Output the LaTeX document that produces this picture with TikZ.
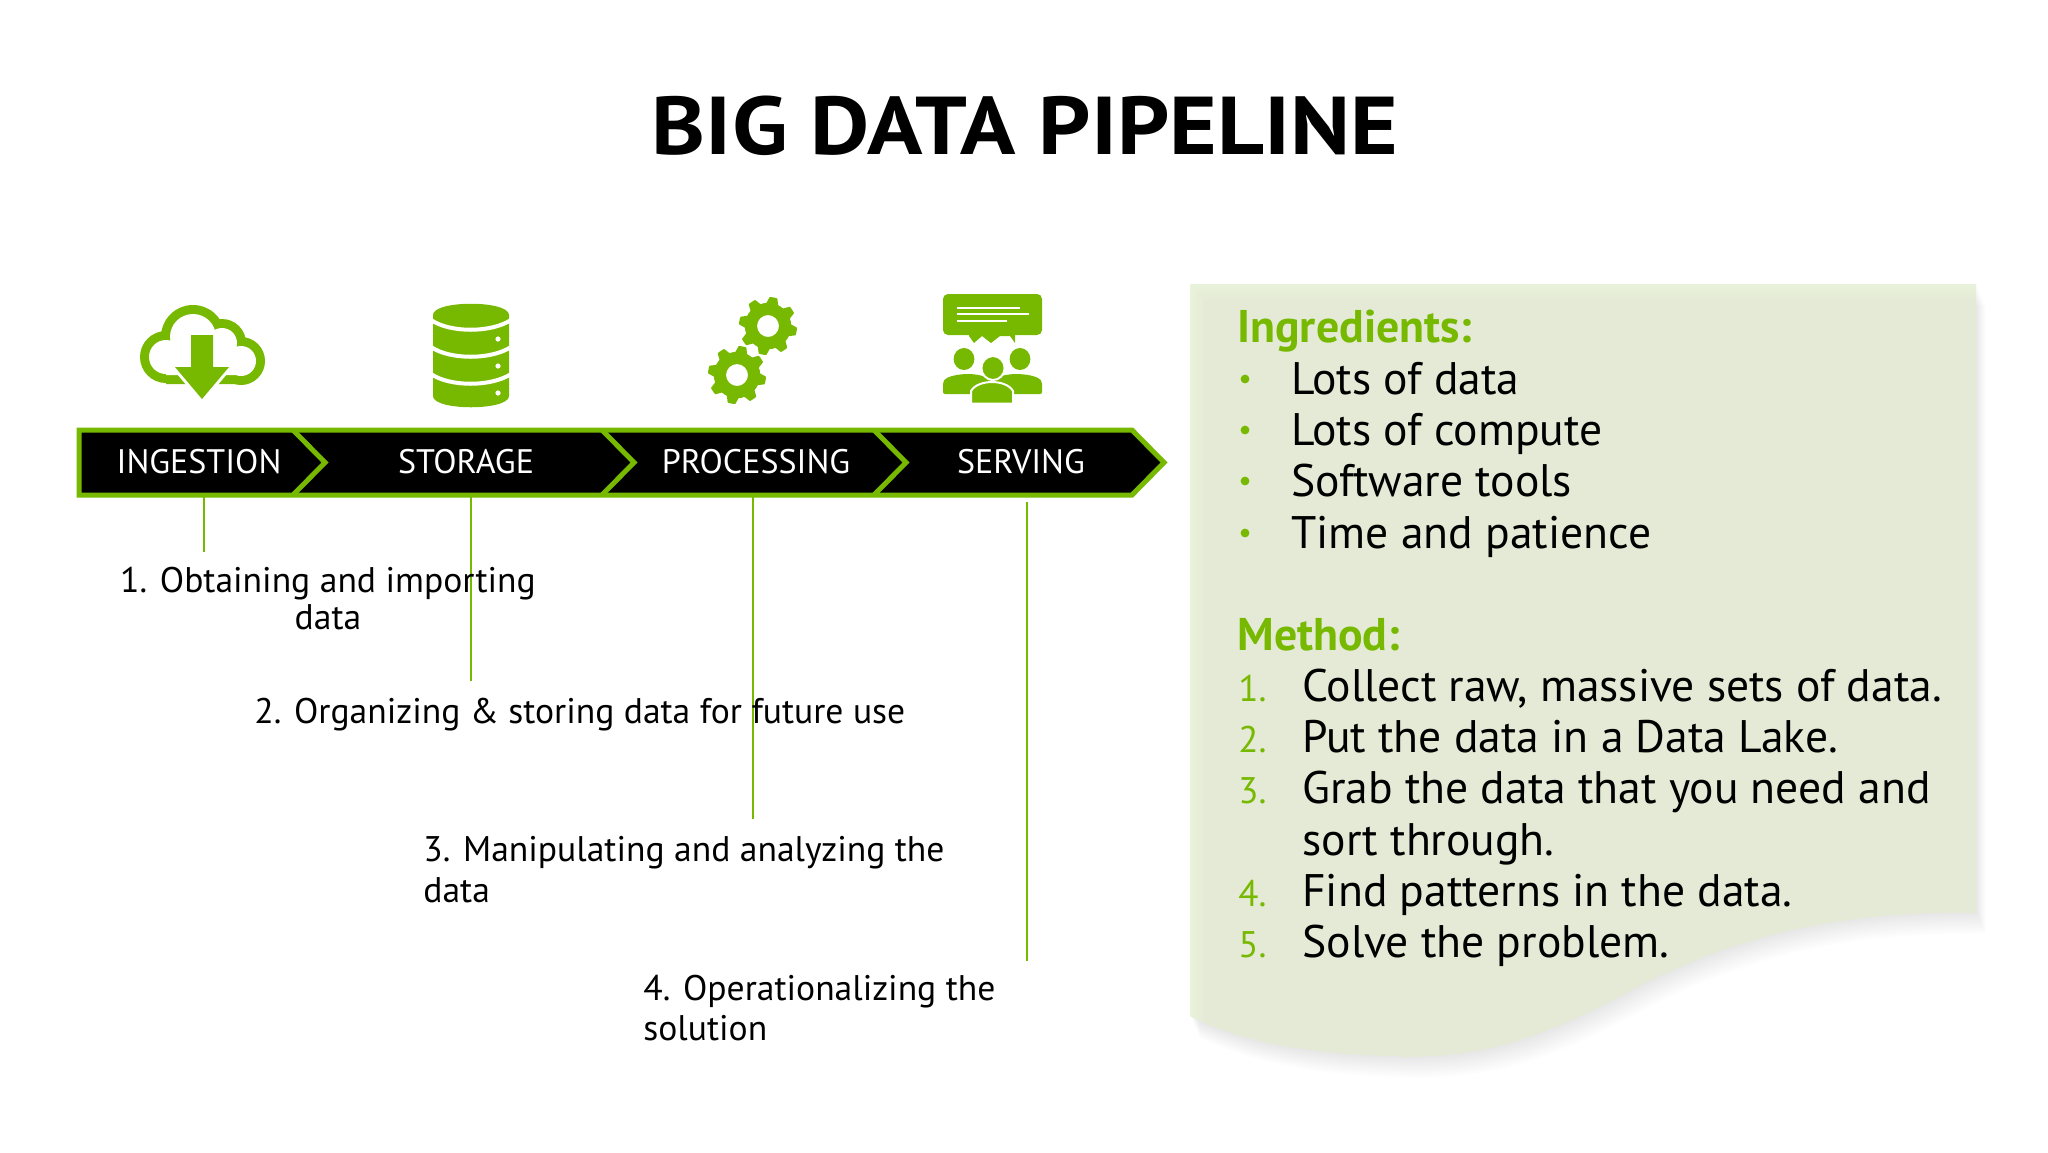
\documentclass[tikz,border=0pt]{standalone}
\usepackage{fontspec}
\setmainfont{PT Sans}
\definecolor{ngreen}{HTML}{76B900}
\definecolor{panel}{HTML}{E4E9D5}
\definecolor{panelL}{HTML}{E9F3DC}
\newcommand{\wavepath}{(1190,284) -- (1976,284) -- (1976,912) .. controls (1860,912) and (1760,925) .. (1640,985) .. controls (1540,1040) and (1480,1058) .. (1400,1056) .. controls (1320,1054) and (1250,1045) .. (1190,1016) -- cycle}
\newcommand{\gearshape}[3]{%
  \fill[ngreen,even odd rule] plot[smooth cycle,tension=0.25,samples at={0,...,47}] ({#1+(#3)*(1-0.2*(mod(\x+1,6)>2))*cos(\x*7.5+11)},{#2+(#3)*(1-0.2*(mod(\x+1,6)>2))*sin(\x*7.5+11)}) (#1,#2) circle[radius=5.5pt];}
\tikzset{
  x=0.5pt,y=-0.5pt,
  stage/.style={text=white,font=\fontsize{17}{20}\selectfont,anchor=base,inner sep=0pt},
  body/.style={text=black,font=\fontsize{17.8}{20}\selectfont,anchor=base west,inner sep=0pt},
  panelbody/.style={text=black,font=\fontsize{22.8}{24}\selectfont,anchor=base west,inner sep=0pt},
  panelhead/.style={text=ngreen,font=\fontsize{22.9}{24}\selectfont\bfseries,anchor=base west,inner sep=0pt},
  panelnum/.style={text=ngreen,font=\fontsize{18.5}{20}\selectfont,anchor=base west,inner sep=0pt},
  lead/.style={draw=ngreen,line width=1pt},
  chev/.style={draw=ngreen,line width=2.5pt,miter limit=10},
}
\begin{document}
\begin{tikzpicture}
\useasboundingbox (0,0) rectangle (2048,1152);
\fill[white] (0,0) rectangle (2048,1152);
% title
\node[font=\fontsize{41}{46}\selectfont\addfontfeature{FakeStretch=1.115}\bfseries,inner sep=0pt] (title) at (1025,126) {BIG DATA PIPELINE};
% panel with shadow
\foreach \d in {2,4,...,24}{
  \fill[black,opacity=0.006,shift={(\d*0.4,\d*0.9)}] \wavepath;
}
\fill[panelL] \wavepath;
\begin{scope}
  \clip \wavepath;
  \fill[panel] (1206,300) rectangle (1976,1152);
  \foreach \i in {0,...,7}{
    \pgfmathsetmacro{\m}{\i*12.5}
    \fill[panel!\m!panelL] (1190+\i*2,284+\i*2) rectangle (1976,1152);
  }
\end{scope}
% banner
\draw[fill=black,draw=ngreen,line width=2.5pt,miter limit=10] (79,430) -- (1132,430) -- (1164,462.5) -- (1132,495) -- (79,495) -- cycle;
\draw[chev] (293,430) -- (325,462.5) -- (293,495);
\draw[chev] (602,430) -- (634,462.5) -- (602,495);
\draw[chev] (874,430) -- (906,462.5) -- (874,495);
\node[stage] (ingestion) at (199,473) {INGESTION};
\node[stage] (storage) at (466,473) {STORAGE};
\node[stage] (processing) at (756,473) {PROCESSING};
\node[stage] (serving) at (1021,473) {SERVING};
% leader lines
\coordinate (l1a) at (203.5,497); \coordinate (l1b) at (203.5,552);
\coordinate (l2a) at (471,497); \coordinate (l2b) at (471,681);
\coordinate (l3a) at (753,497); \coordinate (l3b) at (753,819);
\coordinate (l4a) at (1026.5,502); \coordinate (l4b) at (1026.5,961);
\draw[lead] (l1a) -- (l1b);
\draw[lead] (l2a) -- (l2b);
\draw[lead] (l3a) -- (l3b);
\draw[lead] (l4a) -- (l4b);
% step texts
\node[body,anchor=base] (t1) at (328,592) {1. Obtaining and importing};
\node[body,anchor=base] (t1b) at (328,629) {data};
\node[body] (t2) at (254,723) {2. Organizing \& storing data for future use};
\node[body] (t3) at (423,861) {3. Manipulating and analyzing the};
\node[body] (t3b) at (423,902) {data};
\node[body] (t4) at (643,1000) {4. Operationalizing the};
\node[body] (t4b) at (643,1040) {solution};
% panel text
\node[panelhead] (ing) at (1237,342) {Ingredients:};
\foreach \y/\t/\n in {379/Lots of data/a,430/Lots of compute/b,481/Software tools/c,533/Time and patience/d}{
  \fill[ngreen] (1245,\y) circle[radius=2.2pt];
  \node[panelbody] (ing\n) at (1291,\y+15) {\t};
}
\node[panelhead] (meth) at (1237,650) {Method:};
\foreach \y/\k/\t in {686/1/{Collect raw, massive sets of data.},737/2/{Put the data in a Data Lake.},788/3/{Grab the data that you need and},891/4/{Find patterns in the data.},942/5/{Solve the problem.}}{
  \node[panelnum] (num\k) at (1238,\y+15) {\k.};
  \node[panelbody] (item\k) at (1302,\y+15) {\t};
}
\node[panelbody] (item3b) at (1302,855) {sort through.};
% cloud icon
\fill[ngreen] (193,337) circle[radius=16pt] (222,343) circle[radius=12pt] (241,361) circle[radius=12pt] (166,357) circle[radius=13pt] (166,360) rectangle (241,384);
\fill[white] (193,337) circle[radius=11.5pt] (222,343) circle[radius=7.5pt] (241,361) circle[radius=7.5pt] (166,357) circle[radius=8.5pt] (166,350) rectangle (241,375);
\draw[white,line width=3pt,fill=ngreen,line join=miter] (191,335) -- (213,335) -- (213,367) -- (229,367) -- (202,399) -- (175,367) -- (191,367) -- cycle;
\fill[ngreen] (191,335) -- (213,335) -- (213,367) -- (229,367) -- (202,399) -- (175,367) -- (191,367) -- cycle;
% database icon
\fill[ngreen] (433,315) .. controls (433,300) and (509,300) .. (509,315) -- (509,396) .. controls (509,411) and (433,411) .. (433,396) -- cycle;
\foreach \yy in {320,347,374}{
  \draw[white,line width=2pt] (431,\yy) .. controls (450,\yy+13) and (491,\yy+13) .. (511,\yy);
}
\foreach \yy in {339,366,393}{ \fill[white] (498,\yy) circle[radius=1.3pt]; }
% gears
\gearshape{768}{326}{29}
\gearshape{737}{375}{29}
% serving icon
\fill[ngreen,rounded corners=2.5pt] (943,294) rectangle (1042,335);
\fill[ngreen] (969,333) -- (1015,333) -- (1015,343) -- (1010,336) -- (1000,336) -- (991,343) -- (982,336) -- (974,343) -- (969,336) -- cycle;
\draw[white,line width=1pt] (957,308) -- (1020,308) (957,314) -- (1029,314) (957,321) -- (1007,321);
\fill[ngreen] (964,359) ellipse[x radius=5.2pt,y radius=5.5pt] (1020,359) ellipse[x radius=5.2pt,y radius=5.5pt];
\fill[ngreen,rounded corners=1pt] (943,394) -- (943,382) .. controls (948,374) and (980,370) .. (992,382) -- (992,394) -- cycle;
\fill[ngreen,rounded corners=1pt] (1042,394) -- (1042,382) .. controls (1037,374) and (1004,370) .. (992,382) -- (992,394) -- cycle;
\draw[white,line width=1pt,fill=ngreen] (971,403.5) -- (971,391) .. controls (978,379) and (1006,379) .. (1013,391) -- (1013,403.5) -- cycle;
\draw[white,line width=1pt,fill=ngreen] (993,368) ellipse[x radius=5.8pt,y radius=6pt];
\end{tikzpicture}
\end{document}
